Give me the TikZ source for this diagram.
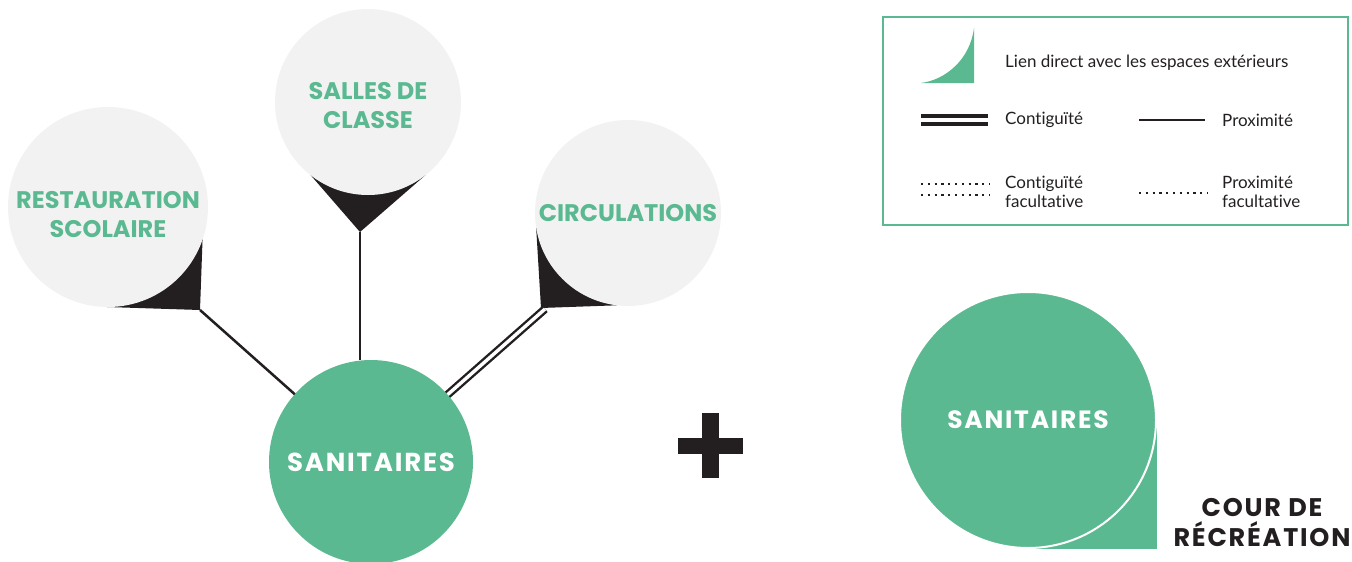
\documentclass[tikz,border=0pt]{standalone}
\usepackage{fontspec}
\setmainfont{Lato}[Ligatures=NoCommon]
\newfontfamily\titre{Poppins}
\newfontfamily\titrelarge{Poppins}[LetterSpace=7]
\usetikzlibrary{positioning,backgrounds}
\definecolor{vert}{RGB}{91,185,145}
\definecolor{gris}{RGB}{242,242,242}
\definecolor{noir}{RGB}{35,31,32}
\tikzstyle{salle} = [circle, fill=gris, text=vert, font=\titre\bfseries\fontsize{24}{29}\selectfont, align=center, inner sep=0pt, outer sep=0pt]
\tikzstyle{sanitaire} = [circle, fill=vert, text=white, font=\titrelarge\bfseries\fontsize{25}{30}\selectfont, inner sep=0pt, outer sep=0pt]
\tikzstyle{pointe} = [fill=noir]
\tikzstyle{proximite} = [draw=noir, line width=2.5pt]
\tikzstyle{contiguite} = [draw=noir, line width=2.4pt, double=white, double distance=3.4pt]
\tikzstyle{facultatif} = [draw=noir, line width=2.2pt, dash pattern=on 2.2pt off 4.6pt]
\tikzstyle{legende} = [font=\fontsize{17}{19}\selectfont, text=noir, anchor=west, align=left, inner sep=0pt]

\begin{document}
\begin{tikzpicture}[x=1pt, y=-1pt]
					\useasboundingbox (0,0) rectangle (1352,562);
					\node[salle, minimum size=200pt, text height=62pt] (resto) at (108,207) {RESTAURATION\\SCOLAIRE};
					\node[salle, minimum size=186pt, text height=53pt] (classe) at (368,102) {SALLES DE\\CLASSE};
					\node[salle, minimum size=186pt] (circu) at (628,213) {CIRCULATIONS};
					\node[sanitaire, minimum size=204pt, font=\titrelarge\bfseries\fontsize{26}{30}\selectfont] (san) at (371,462) {SANITAIRES};
					\coordinate (pointeR) at (200,310);
					\coordinate (pointeS) at (360,232);
					\coordinate (pointeC) at (541,308);
					\begin{scope}[on background layer]
						\fill[pointe] (resto.-19) -- (pointeR) -- (resto.-93) -- (resto.center) -- cycle;
						\fill[pointe] (classe.-128) -- (pointeS) -- (classe.-52) -- (classe.center) -- cycle;
						\fill[pointe] (circu.189) -- (pointeC) -- (circu.-97) -- (circu.center) -- cycle;
					\end{scope}
					\draw[proximite] (pointeR) -- (san);
					\draw[proximite] (pointeS) -- (pointeS |- san.north);
					\draw[contiguite] ([shift={(4,1)}]pointeC) -- (san);
					\fill[noir] (678,438) rectangle (743,454);
					\fill[noir] (702,413) rectangle (719,478);
					\node[sanitaire, draw=white, line width=2pt, minimum size=256pt] (sanR) at (1028,420) {SANITAIRES};
					\begin{scope}[on background layer]
						\fill[vert] (sanR.center) rectangle (1157,549);
					\end{scope}
					\node[font=\titrelarge\bfseries\fontsize{25.5}{30}\selectfont, text=noir, align=center] (cour) at (1262,523) {COUR DE\\RÉCRÉATION};
					\node[draw=vert, line width=1.2pt, minimum width=465pt, minimum height=208pt, inner sep=0pt, outer sep=0pt] (cadre) at (1115.5,121) {};
					\fill[vert] (921,83) .. controls (945,80) and (970,60) .. (974,28) -- (974,83) -- cycle;
					\node[legende] (lien) at (1005,63) {Lien direct avec les espaces extérieurs};
					\draw[contiguite, line width=3.3pt, double distance=4.7pt] (921,120) -- (988,120);
					\node[legende] (conti) at (1005,120) {Contiguïté};
					\draw[proximite] (1139,120) -- (1205,120);
					\node[legende] (proxi) at (1222,120) {Proximité};
					\draw[facultatif] (921,184) -- (990,184);
					\draw[facultatif] (921,195) -- (990,195);
					\node[legende] (contif) at (1005,192) {Contiguïté\\facultative};
					\draw[facultatif] (1139,193) -- (1208,193);
					\node[legende] (proxif) at (1222,192) {Proximité\\facultative};
\end{tikzpicture}
\end{document}
